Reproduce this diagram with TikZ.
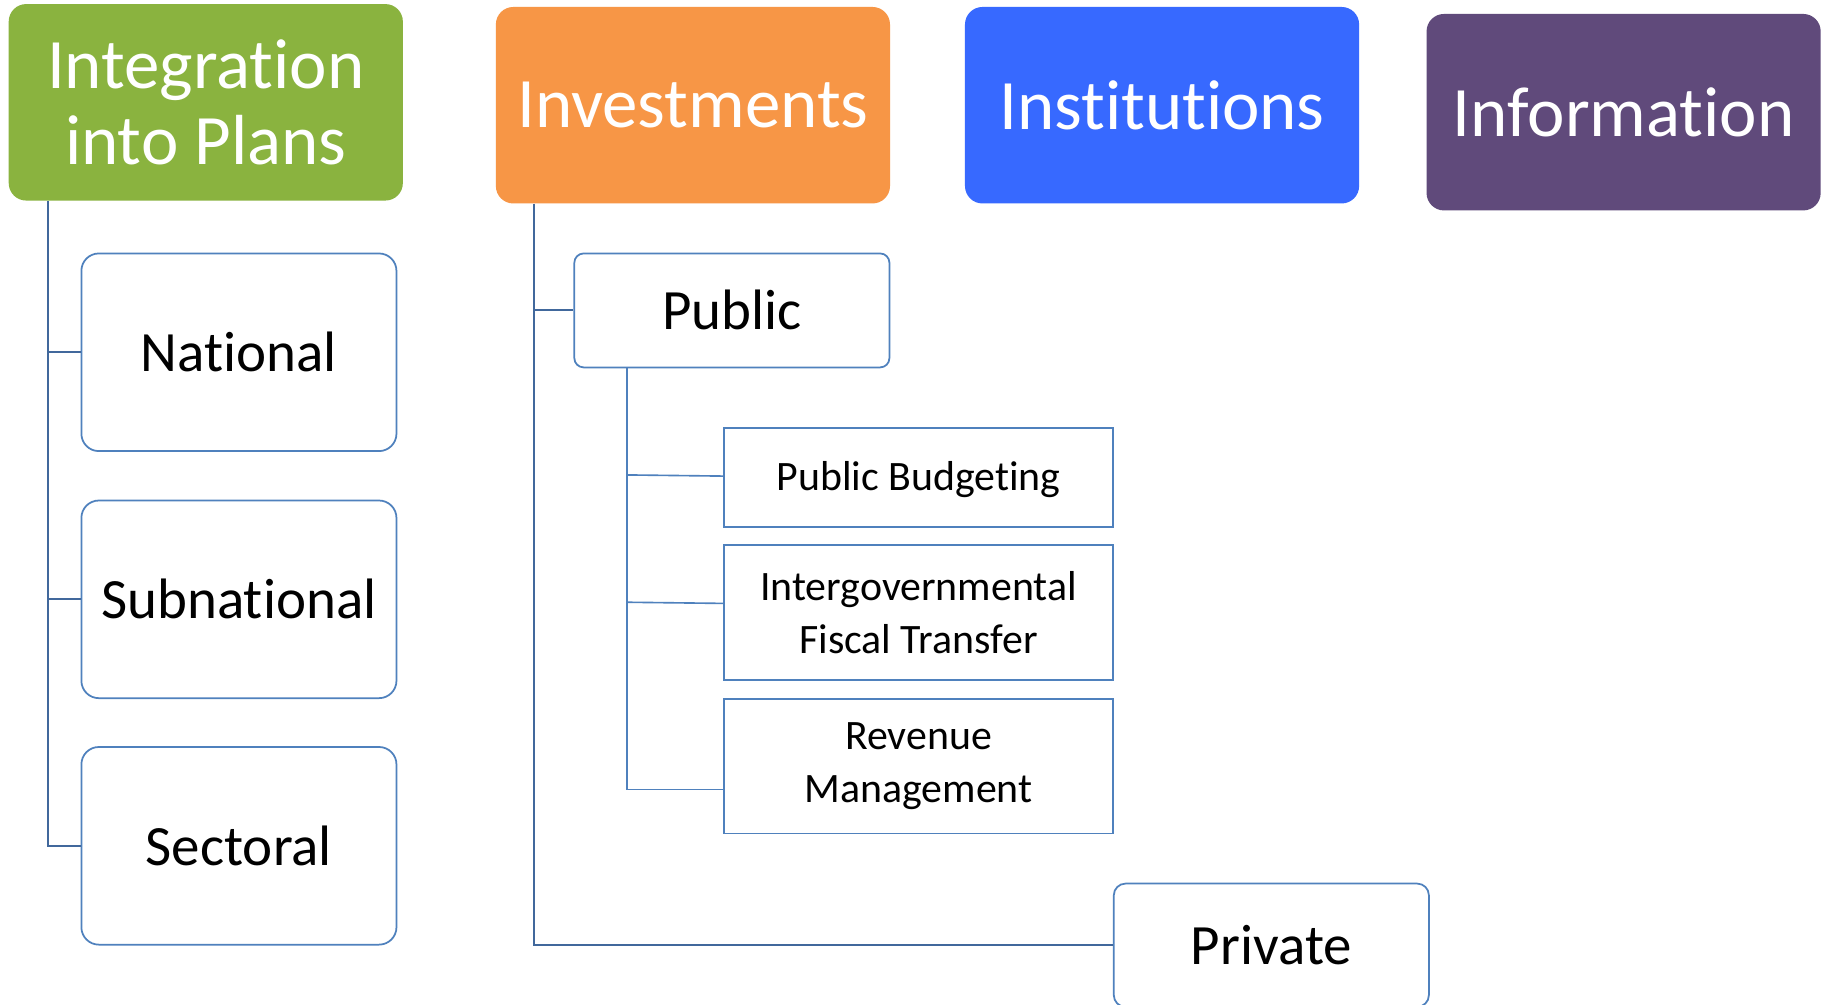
\documentclass[tikz,border=0pt]{standalone}
\usepackage{fontspec}
\setmainfont{Carlito}[RawFeature={-liga;-clig;-calt}]
\usetikzlibrary{calc}
\definecolor{plangreen}{HTML}{8AB33F}
\definecolor{investorange}{HTML}{F79646}
\definecolor{institblue}{HTML}{3769FF}
\definecolor{infopurple}{HTML}{604A7B}
\definecolor{linkblue}{HTML}{4F81BD}
\definecolor{trunkblue}{HTML}{41689C}

\begin{document}
\begin{tikzpicture}[x=1pt,y=-1pt,
	head/.style={rounded corners=15pt,minimum width=339pt,minimum height=169pt,inner sep=0pt,text=white,align=center,font=\fontsize{61}{65}\selectfont},
	item/.style={draw=linkblue,line width=1.5pt,rounded corners=15pt,fill=white,minimum width=271pt,minimum height=170pt,inner sep=0pt,font=\fontsize{49}{59}\selectfont},
	subitem/.style={draw=linkblue,line width=1.5pt,fill=white,minimum width=334pt,inner sep=0pt,align=center,font=\fontsize{36}{45}\selectfont},
	trunk/.style={draw=trunkblue,line width=1.6pt},
	twig/.style={draw=linkblue,line width=1.4pt}]
	\path[use as bounding box,fill=white] (0,0) rectangle (1568,864);
	\clip (0,0) rectangle (1568,864);
	% top row
	\draw (177,88) node(integ) [head,fill=plangreen] {Integration\\into Plans};
	\draw (596,90.5) node(invest) [head,fill=investorange] {Investments};
	\draw (999.5,90.5) node(instit) [head,fill=institblue] {Institutions};
	\draw (1396.5,96.5) node(info) [head,fill=infopurple] {Information};
	% plans branch
	\draw (205.5,303) node(national) [item] {National};
	\draw (205.5,515.5) node(subnat) [item] {Subnational};
	\draw (205.5,727.5) node(sectoral) [item] {Sectoral};
	% investments branch
	\draw (629.5,267) node(public) [item,minimum height=98pt,rounded corners=8pt] {Public};
	\draw (1093.5,813) node(private) [item,minimum height=106pt,rounded corners=10pt] {Private};
	\draw (790,410.5) node(pbud) [subitem,minimum height=85pt,text depth=2pt] {Public Budgeting};
	\draw (790,527) node(ifisc) [subitem,minimum height=116pt] {Intergovernmental\\Fiscal Transfer};
	\draw (790,659) node(revm) [subitem,minimum height=116pt] {Revenue\\Management};
	% connectors
	\coordinate (ltop) at ([xshift=34pt]integ.south west);
	\coordinate (mtop) at ([xshift=33pt]invest.south west);
	\coordinate (stop) at ([xshift=46pt]public.south west);
	\draw[trunk] (ltop) |- (sectoral.west);
	\draw[trunk] (ltop |- national.west) -- (national.west);
	\draw[trunk] (ltop |- subnat.west) -- (subnat.west);
	\draw[trunk] (mtop) |- (private.west);
	\draw[trunk] (mtop |- public.west) -- (public.west);
	\draw[twig] (stop) |- ([yshift=-20pt]revm.west);
	\draw[twig] ([yshift=2pt]pbud.west -| stop) -- ([yshift=1pt]pbud.west);
	\draw[twig] ([yshift=9pt]ifisc.west -| stop) -- ([yshift=8pt]ifisc.west);
\end{tikzpicture}
\end{document}
